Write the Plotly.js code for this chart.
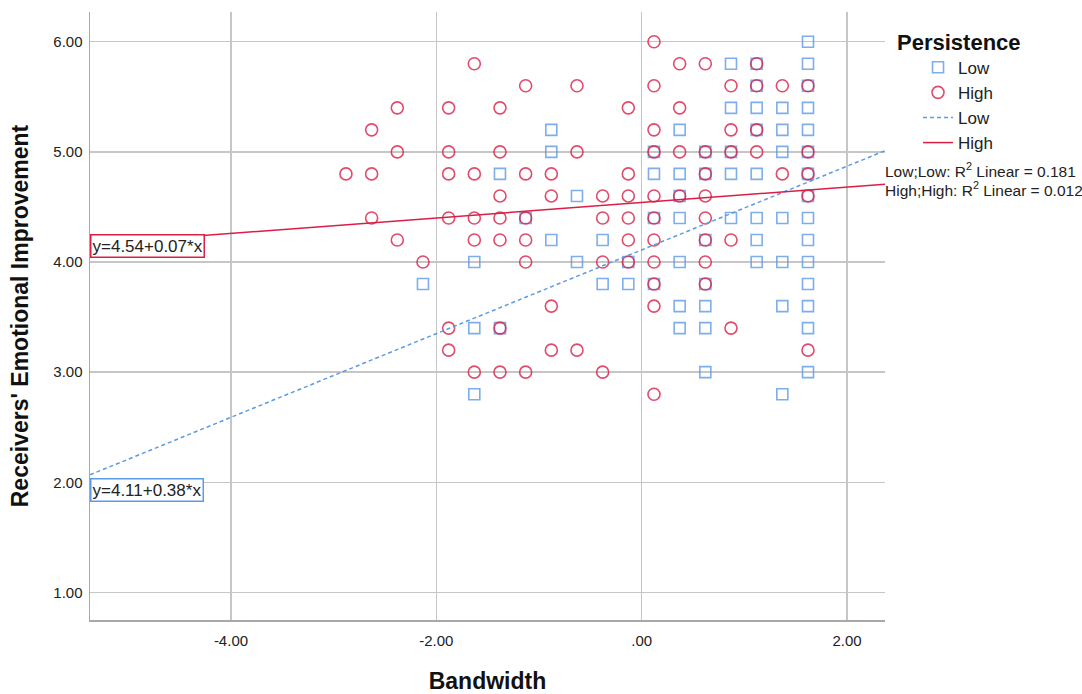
<!DOCTYPE html>
<html>
<head>
<meta charset="utf-8">
<script src="https://cdn.plot.ly/plotly-3.0.1.min.js"></script>
<style>html,body{margin:0;padding:0;background:#fff;}#chart{width:1082px;height:694px;}</style>
</head>
<body>
<div id="chart"></div>
<script>
// ---- data ----
const lowX = [
  -2.13,
  -1.63, -1.63, -1.63,
  -1.38, -1.38,
  -1.13,
  -0.88, -0.88, -0.88,
  -0.63, -0.63,
  -0.38, -0.38,
  -0.13, -0.13,
  0.12, 0.12, 0.12, 0.12,
  0.37, 0.37, 0.37, 0.37, 0.37, 0.37, 0.37,
  0.62, 0.62, 0.62, 0.62, 0.62, 0.62, 0.62,
  0.87, 0.87, 0.87, 0.87, 0.87,
  1.12, 1.12, 1.12, 1.12, 1.12, 1.12, 1.12, 1.12,
  1.37, 1.37, 1.37, 1.37, 1.37, 1.37, 1.37,
  1.62, 1.62, 1.62, 1.62, 1.62, 1.62, 1.62, 1.62, 1.62, 1.62, 1.62, 1.62, 1.62, 1.62, 1.62
];
const lowY = [
  3.8,
  4.0, 3.4, 2.8,
  4.8, 3.4,
  4.4,
  5.2, 5.0, 4.2,
  4.6, 4.0,
  4.2, 3.8,
  4.0, 3.8,
  5.0, 4.8, 4.4, 3.8,
  5.2, 4.8, 4.6, 4.4, 4.0, 3.6, 3.4,
  5.0, 4.8, 4.2, 3.8, 3.6, 3.4, 3.0,
  5.8, 5.4, 5.0, 4.8, 4.4,
  5.8, 5.6, 5.4, 5.2, 4.8, 4.4, 4.2, 4.0,
  5.4, 5.2, 5.0, 4.4, 4.0, 3.6, 2.8,
  6.0, 5.8, 5.6, 5.4, 5.2, 5.0, 4.8, 4.6, 4.4, 4.2, 4.0, 3.8, 3.6, 3.4, 3.0
];
const highX = [
  -2.88,
  -2.63, -2.63, -2.63,
  -2.38, -2.38, -2.38,
  -2.13,
  -1.88, -1.88, -1.88, -1.88, -1.88, -1.88,
  -1.63, -1.63, -1.63, -1.63, -1.63,
  -1.38, -1.38, -1.38, -1.38, -1.38, -1.38, -1.38,
  -1.13, -1.13, -1.13, -1.13, -1.13, -1.13,
  -0.88, -0.88, -0.88, -0.88,
  -0.63, -0.63, -0.63,
  -0.38, -0.38, -0.38, -0.38,
  -0.13, -0.13, -0.13, -0.13, -0.13, -0.13,
  0.12, 0.12, 0.12, 0.12, 0.12, 0.12, 0.12, 0.12, 0.12, 0.12, 0.12,
  0.37, 0.37, 0.37, 0.37,
  0.62, 0.62, 0.62, 0.62, 0.62, 0.62, 0.62, 0.62,
  0.87, 0.87, 0.87, 0.87, 0.87,
  1.12, 1.12, 1.12, 1.12,
  1.37, 1.37,
  1.62, 1.62, 1.62, 1.62, 1.62
];
const highY = [
  4.8,
  5.2, 4.8, 4.4,
  5.4, 5.0, 4.2,
  4.0,
  5.4, 5.0, 4.8, 4.4, 3.4, 3.2,
  5.8, 4.8, 4.4, 4.2, 3.0,
  5.4, 5.0, 4.6, 4.4, 4.2, 3.4, 3.0,
  5.6, 4.8, 4.4, 4.2, 4.0, 3.0,
  4.8, 4.6, 3.6, 3.2,
  5.6, 5.0, 3.2,
  4.6, 4.4, 4.0, 3.0,
  5.4, 4.8, 4.6, 4.4, 4.2, 4.0,
  6.0, 5.6, 5.2, 5.0, 4.6, 4.4, 4.2, 4.0, 3.8, 3.6, 2.8,
  5.8, 5.4, 5.0, 4.6,
  5.8, 5.0, 4.8, 4.6, 4.4, 4.2, 4.0, 3.8,
  5.6, 5.2, 5.0, 4.2, 3.4,
  5.8, 5.6, 5.2, 5.0,
  5.6, 4.8,
  5.6, 5.0, 4.8, 4.6, 3.2
];
// fit lines (from the chart's equations)
const lowFit = {intercept: 4.11, slope: 0.38, r2: '0.181'};
const highFit = {intercept: 4.54, slope: 0.07, r2: '0.012'};
const xTickVals = [-4, -2, 0, 2];
const xTickText = ['-4.00', '-2.00', '.00', '2.00'];
const yTickVals = [1, 2, 3, 4, 5, 6];
const yTickText = ['1.00', '2.00', '3.00', '4.00', '5.00', '6.00'];

// ---- styling ----
const xRange = [-5.373, 2.37];
const yRange = [0.75, 6.27];
const BLUE = 'rgb(92,154,230)';
const RED = 'rgb(218,30,70)';
const FONT = 'Liberation Sans, Arial, sans-serif';

function fitLine(f) {
  return xRange.map(x => f.intercept + f.slope * x);
}

const traces = [
  {x: lowX, y: lowY, type: 'scatter', mode: 'markers', name: 'Low',
   marker: {symbol: 'square-open', size: 11, color: BLUE, opacity: 0.8, line: {width: 1.6, color: BLUE}}},
  {x: highX, y: highY, type: 'scatter', mode: 'markers', name: 'High',
   marker: {symbol: 'circle-open', size: 12, color: RED, opacity: 0.8, line: {width: 1.6, color: RED}}},
  {x: xRange, y: fitLine(lowFit), type: 'scatter', mode: 'lines', name: 'Low',
   line: {color: BLUE, width: 1.5, dash: '4px,3px'}},
  {x: xRange, y: fitLine(highFit), type: 'scatter', mode: 'lines', name: 'High',
   line: {color: RED, width: 1.5}}
];

const layout = {
  width: 1082, height: 694,
  margin: {l: 90, r: 197, t: 12, b: 74},
  paper_bgcolor: '#fff', plot_bgcolor: '#fff',
  font: {family: FONT, color: '#222'},
  showlegend: true,
  xaxis: {
    range: xRange, tickvals: xTickVals, ticktext: xTickText,
    showgrid: true, gridcolor: '#c6c6c6', gridwidth: 1.5, zeroline: false,
    showline: true, linecolor: '#a8a8a8', linewidth: 1.5,
    ticks: '', ticklabelstandoff: 6,
    tickfont: {family: FONT, size: 15, color: '#222'},
    title: {text: '<b>Bandwidth</b>', font: {family: FONT, size: 23, color: '#111'}, standoff: 27}
  },
  yaxis: {
    range: yRange, tickvals: yTickVals, ticktext: yTickText,
    showgrid: true, gridcolor: '#c6c6c6', gridwidth: 1.5, zeroline: false,
    showline: true, linecolor: '#a8a8a8', linewidth: 1.5,
    ticks: '', ticklabelstandoff: 3,
    tickfont: {family: FONT, size: 15, color: '#222'},
    title: {text: "<b>Receivers' Emotional Improvement</b>", font: {family: FONT, size: 23, color: '#111'}, standoff: 18}
  },
  legend: {
    x: 1.0126, y: 0.985, xanchor: 'left', yanchor: 'top',
    bgcolor: 'rgba(0,0,0,0)', borderwidth: 0,
    indentation: 23,
    font: {family: FONT, size: 17, color: '#222'},
    title: {text: '<b>Persistence</b>', font: {family: FONT, size: 22, color: '#111'}}
  },
  annotations: [
    {xref: 'paper', yref: 'paper', x: 0.998, y: 0.740, xanchor: 'left', yanchor: 'middle', showarrow: false,
     text: 'Low;Low: R<sup>2</sup> Linear = ' + lowFit.r2, font: {family: FONT, size: 15.5, color: '#222'}},
    {xref: 'paper', yref: 'paper', x: 0.998, y: 0.709, xanchor: 'left', yanchor: 'middle', showarrow: false,
     text: 'High;High: R<sup>2</sup> Linear = ' + highFit.r2, font: {family: FONT, size: 15.5, color: '#222'}},
    {xref: 'paper', yref: 'paper', x: 0.0, y: 0.615, xanchor: 'left', yanchor: 'middle', showarrow: false,
     text: 'y=' + highFit.intercept.toFixed(2) + '+' + highFit.slope.toFixed(2) + '*x',
     font: {family: FONT, size: 17, color: '#222'}, bgcolor: '#fff', bordercolor: RED, borderwidth: 1.5, borderpad: 1},
    {xref: 'paper', yref: 'paper', x: 0.0, y: 0.2146, xanchor: 'left', yanchor: 'middle', showarrow: false,
     text: 'y=' + lowFit.intercept.toFixed(2) + '+' + lowFit.slope.toFixed(2) + '*x',
     font: {family: FONT, size: 17, color: '#222'}, bgcolor: '#fff', bordercolor: BLUE, borderwidth: 1.5, borderpad: 1}
  ]
};

Plotly.newPlot('chart', traces, layout, {displayModeBar: false, staticPlot: true});
</script>
</body>
</html>
